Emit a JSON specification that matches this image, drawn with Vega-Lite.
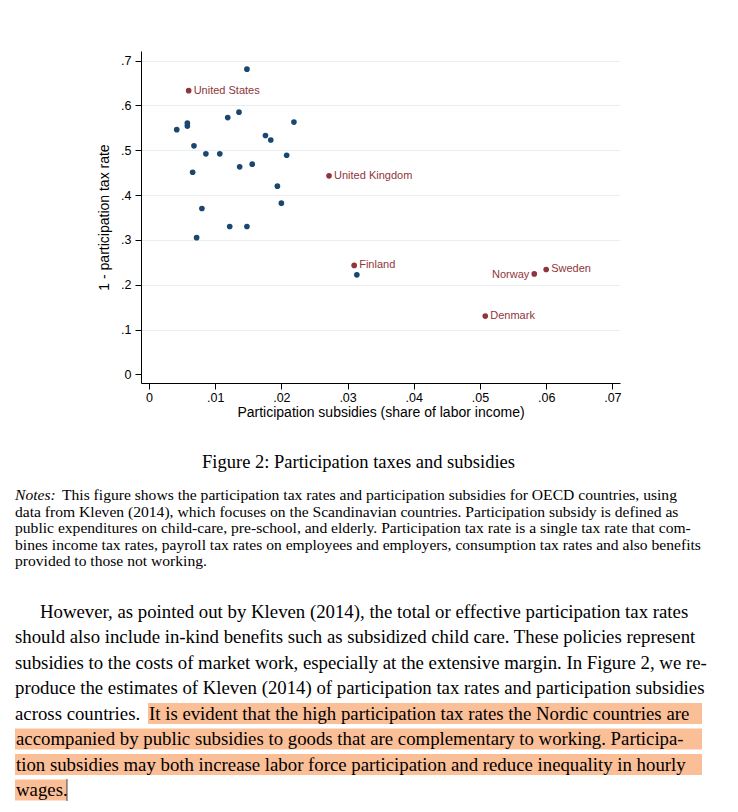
{
  "$schema": "https://vega.github.io/schema/vega-lite/v6.json",
  "width": 479,
  "height": 332,
  "autosize": {"type": "none"},
  "padding": {"left": 141, "top": 51, "right": 118, "bottom": 429},
  "background": "white",
  "config": {"view": {"stroke": null}, "font": "Liberation Sans"},
  "datasets": {
    "points": [
      {"subsidy": 0.0148, "rate": 0.681, "group": "Other"},
      {"subsidy": 0.0136, "rate": 0.585, "group": "Other"},
      {"subsidy": 0.0119, "rate": 0.573, "group": "Other"},
      {"subsidy": 0.0219, "rate": 0.563, "group": "Other"},
      {"subsidy": 0.0058, "rate": 0.561, "group": "Other"},
      {"subsidy": 0.0058, "rate": 0.554, "group": "Other"},
      {"subsidy": 0.0042, "rate": 0.546, "group": "Other"},
      {"subsidy": 0.0176, "rate": 0.533, "group": "Other"},
      {"subsidy": 0.0184, "rate": 0.523, "group": "Other"},
      {"subsidy": 0.0068, "rate": 0.510, "group": "Other"},
      {"subsidy": 0.0086, "rate": 0.492, "group": "Other"},
      {"subsidy": 0.0107, "rate": 0.492, "group": "Other"},
      {"subsidy": 0.0208, "rate": 0.489, "group": "Other"},
      {"subsidy": 0.0156, "rate": 0.469, "group": "Other"},
      {"subsidy": 0.0137, "rate": 0.463, "group": "Other"},
      {"subsidy": 0.0066, "rate": 0.451, "group": "Other"},
      {"subsidy": 0.0194, "rate": 0.420, "group": "Other"},
      {"subsidy": 0.0200, "rate": 0.382, "group": "Other"},
      {"subsidy": 0.0080, "rate": 0.370, "group": "Other"},
      {"subsidy": 0.0072, "rate": 0.305, "group": "Other"},
      {"subsidy": 0.0122, "rate": 0.330, "group": "Other"},
      {"subsidy": 0.0148, "rate": 0.330, "group": "Other"},
      {"subsidy": 0.0314, "rate": 0.222, "group": "Other"},
      {"subsidy": 0.0060, "rate": 0.633, "group": "Labelled", "country": "United States"},
      {"subsidy": 0.0272, "rate": 0.443, "group": "Labelled", "country": "United Kingdom"},
      {"subsidy": 0.0310, "rate": 0.243, "group": "Labelled", "country": "Finland"},
      {"subsidy": 0.0582, "rate": 0.224, "group": "Labelled", "country": "Norway"},
      {"subsidy": 0.0600, "rate": 0.234, "group": "Labelled", "country": "Sweden"},
      {"subsidy": 0.0508, "rate": 0.130, "group": "Labelled", "country": "Denmark"}
    ],
    "caption": [
      {"text": "Figure 2: Participation taxes and subsidies"}
    ],
    "notes": [
      {"line": 1, "label": "Notes:", "text": "This figure shows the participation tax rates and participation subsidies for OECD countries, using"},
      {"line": 2, "text": "data from Kleven (2014), which focuses on the Scandinavian countries.  Participation subsidy is defined as"},
      {"line": 3, "text": "public expenditures on child-care, pre-school, and elderly.  Participation tax rate is a single tax rate that com-"},
      {"line": 4, "text": "bines income tax rates, payroll tax rates on employees and employers, consumption tax rates and also benefits"},
      {"line": 5, "text": "provided to those not working."}
    ],
    "para": [
      {"line": 1, "text": "However, as pointed out by Kleven (2014), the total or effective participation tax rates"},
      {"line": 2, "text": "should also include in-kind benefits such as subsidized child care.  These policies represent"},
      {"line": 3, "text": "subsidies to the costs of market work, especially at the extensive margin. In Figure 2, we re-"},
      {"line": 4, "text": "produce the estimates of Kleven (2014) of participation tax rates and participation subsidies"},
      {"line": 5, "text": "across countries."}
    ],
    "marked": [
      {"line": 5, "from": 0.1936, "to": 1.0, "text": "It is evident that the high participation tax rates the Nordic countries are"},
      {"line": 6, "from": 0, "to": 1.0, "text": "accompanied by public subsidies to goods that are complementary to working.  Participa-"},
      {"line": 7, "from": 0, "to": 1.0, "text": "tion subsidies may both increase labor force participation and reduce inequality in hourly"},
      {"line": 8, "from": 0, "to": 0.0757, "text": "wages."}
    ]
  },
  "layer": [
    {
      "data": {"name": "points"},
      "encoding": {
        "x": {
          "field": "subsidy", "type": "quantitative",
          "scale": {"domain": [-0.0012, 0.07115], "nice": false, "zero": false},
          "axis": {
            "values": [0, 0.01, 0.02, 0.03, 0.04, 0.05, 0.06, 0.07],
            "labelExpr": "datum.value == 0 ? '0' : slice(format(datum.value, '.2f'), 1)",
            "title": "Participation subsidies (share of labor income)",
            "grid": false,
            "domainColor": "#000", "tickColor": "#000", "tickSize": 6,
            "labelColor": "#000", "labelFontSize": 12.5, "labelPadding": 2, "labelFont": "Liberation Sans",
            "titleColor": "#000", "titleFontSize": 14, "titleFontWeight": "normal", "titleFont": "Liberation Sans", "titlePadding": 2
          }
        },
        "y": {
          "field": "rate", "type": "quantitative",
          "scale": {"domain": [-0.0194, 0.7216], "nice": false, "zero": false},
          "axis": {
            "values": [0, 0.1, 0.2, 0.3, 0.4, 0.5, 0.6, 0.7],
            "labelExpr": "datum.value == 0 ? '0' : slice(format(datum.value, '.1f'), 1)",
            "title": "1 - participation tax rate",
            "grid": true,
            "gridColor": {"condition": {"test": "datum.value == 0", "value": "transparent"}, "value": "#e6eef0"},
            "domainColor": "#000", "tickColor": "#000", "tickSize": 6,
            "labelColor": "#000", "labelFontSize": 12.5, "labelPadding": 4, "labelFont": "Liberation Sans",
            "titleColor": "#000", "titleFontSize": 14, "titleFontWeight": "normal", "titleFont": "Liberation Sans", "titlePadding": 9
          }
        }
      },
      "layer": [
        {
          "mark": {"type": "circle", "size": 32, "opacity": 1},
          "encoding": {
            "color": {"field": "group", "type": "nominal", "scale": {"domain": ["Other", "Labelled"], "range": ["#1a476f", "#90353b"]}, "legend": null}
          }
        },
        {
          "transform": [{"filter": "datum.country != null && datum.country != 'Norway'"}],
          "mark": {"type": "text", "align": "left", "baseline": "middle", "dx": 5, "fontSize": 11, "color": "#90353b", "font": "Liberation Sans"},
          "encoding": {"text": {"field": "country"}}
        },
        {
          "transform": [{"filter": "datum.country == 'Norway'"}],
          "mark": {"type": "text", "align": "right", "baseline": "middle", "dx": -5, "dy": 1, "fontSize": 11, "color": "#90353b", "font": "Liberation Sans"},
          "encoding": {"text": {"field": "country"}}
        }
      ]
    },
    {
      "data": {"name": "caption"},
      "mark": {"type": "text", "align": "center", "baseline": "middle", "fontSize": 18.5, "font": "Liberation Serif", "color": "#000"},
      "encoding": {
        "x": {"datum": 0.5, "type": "quantitative", "scale": {"domain": [0, 1], "range": [-126, 561]}, "axis": null},
        "y": {"datum": 0.5, "type": "quantitative", "scale": {"domain": [0, 1], "range": [400, 422]}, "axis": null},
        "text": {"field": "text"}
      }
    },
    {
      "data": {"name": "notes"},
      "encoding": {
        "x": {"datum": 0, "type": "quantitative", "scale": {"domain": [0, 1], "range": [-126, 561]}, "axis": null},
        "y": {"field": "line", "type": "quantitative", "scale": {"domain": [1, 5], "range": [444, 510]}, "axis": null},
        "text": {"field": "text"}
      },
      "layer": [
        {
          "transform": [{"filter": "datum.line == 1"}],
          "mark": {"type": "text", "align": "left", "baseline": "middle", "fontSize": 15.6, "font": "Liberation Serif", "fontStyle": "italic", "color": "#000"},
          "encoding": {"text": {"field": "label"}}
        },
        {
          "transform": [{"filter": "datum.line == 1"}],
          "mark": {"type": "text", "align": "left", "baseline": "middle", "dx": 47, "fontSize": 15.6, "font": "Liberation Serif", "color": "#000"}
        },
        {
          "transform": [{"filter": "datum.line > 1"}],
          "mark": {"type": "text", "align": "left", "baseline": "middle", "fontSize": 15.6, "font": "Liberation Serif", "color": "#000"}
        }
      ]
    },
    {
      "data": {"name": "marked"},
      "encoding": {
        "x": {"field": "from", "type": "quantitative", "scale": {"domain": [0, 1], "range": [-126, 561]}, "axis": null},
        "y": {"field": "line", "type": "quantitative", "scale": {"domain": [1, 8], "range": [560.7, 739]}, "axis": null}
      },
      "layer": [
        {
          "mark": {"type": "rect", "height": 21, "color": "#fbbf98"},
          "encoding": {"x2": {"field": "to"}}
        },
        {
          "mark": {"type": "text", "align": "left", "baseline": "middle", "dx": 1, "fontSize": 18.8, "font": "Liberation Serif", "color": "#000"},
          "encoding": {"text": {"field": "text"}}
        },
        {
          "transform": [{"filter": "datum.line == 8"}],
          "mark": {"type": "tick", "orient": "vertical", "size": 22, "thickness": 1, "color": "#000"},
          "encoding": {"x": {"field": "to", "type": "quantitative"}}
        }
      ]
    },
    {
      "data": {"name": "para"},
      "encoding": {
        "x": {"datum": 0, "type": "quantitative", "scale": {"domain": [0, 1], "range": [-126, 561]}, "axis": null},
        "y": {"field": "line", "type": "quantitative", "scale": {"domain": [1, 8], "range": [560.7, 739]}, "axis": null},
        "text": {"field": "text"}
      },
      "layer": [
        {
          "transform": [{"filter": "datum.line == 1"}],
          "mark": {"type": "text", "align": "left", "baseline": "middle", "dx": 25, "fontSize": 18.8, "font": "Liberation Serif", "color": "#000"}
        },
        {
          "transform": [{"filter": "datum.line > 1"}],
          "mark": {"type": "text", "align": "left", "baseline": "middle", "fontSize": 18.8, "font": "Liberation Serif", "color": "#000"}
        }
      ]
    }
  ],
  "resolve": {"scale": {"x": "independent", "y": "independent", "color": "independent"}}
}
